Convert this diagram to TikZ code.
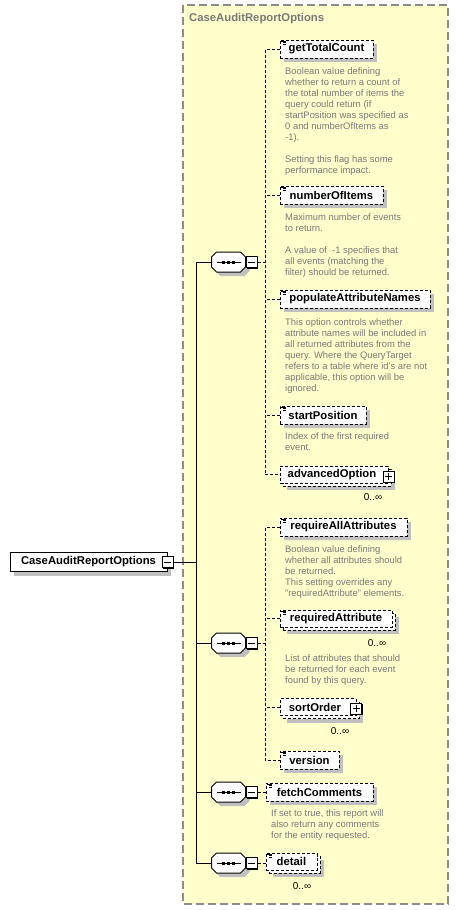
\documentclass[tikz,border=0pt]{standalone}
\usepackage{fontspec}
\setmainfont{Liberation Sans}
\usetikzlibrary{shadows}
\definecolor{boxyellow}{HTML}{FFFFCC}
\definecolor{txtgray}{HTML}{787878}
\definecolor{shgray}{HTML}{C0C0C0}
\definecolor{bordergray}{HTML}{8C8C8C}
\newcommand\seqcomp[2]{%
  \node[inner sep=0pt, minimum width=34pt, minimum height=20pt] (#1) at (#2) {};
  \begin{scope}[shift={(#1.center)}]
    \fill[shgray] (-8,-6) -- (16,-6) -- (21,-1) -- (21,9) -- (16,14) -- (-8,14) -- (-13,9) -- (-13,-1) -- cycle;
    \draw[fill=white, line width=1pt] (-12,-10) -- (12,-10) -- (17,-5) -- (17,5) -- (12,10) -- (-12,10) -- (-17,5) -- (-17,-5) -- cycle;
    \draw[line width=1pt] (-12,0) -- (12.5,0);
    \fill (-6.5,-1.5) rectangle (-3.5,1.5);
    \fill (-1.5,-1.5) rectangle (1.5,1.5);
    \fill (3.5,-1.5) rectangle (6.5,1.5);
  \end{scope}}
\newcommand\minusbox[2]{%
  \node[pmbox] (#1) at (#2) {};
  \draw[line width=1pt] ([shift={(-3.5,0)}]#1.center) -- ([shift={(3.5,0)}]#1.center);}
\newcommand\plusbox[2]{%
  \node[pmbox] (#1) at (#2) {};
  \draw[line width=1pt] ([shift={(-3.5,0)}]#1.center) -- ([shift={(3.5,0)}]#1.center)
    ([shift={(0,-3.5)}]#1.center) -- ([shift={(0,3.5)}]#1.center);}
\newcommand\elicon[1]{%
  \draw[line width=0.8pt] ([shift={(1.5,1.5)}]#1.north west) -- ++(5,0)
    ([shift={(3,3.3)}]#1.north west) -- ++(3.5,0)
    ([shift={(3,5.1)}]#1.north west) -- ++(3.5,0);}
\begin{document}
\begin{tikzpicture}[x=1pt,y=-1pt,
  namefont/.style={font=\fontsize{11.3}{13}\selectfont\bfseries},
  elem/.style={namefont, draw=black, line width=1pt, dash pattern=on 3pt off 2pt,
    fill=white, minimum height=18pt, inner sep=0pt,
    drop shadow={shadow xshift=4pt, shadow yshift=-4pt, fill=shgray, opacity=1}},
  multi/.style={namefont, draw=black, line width=1pt, dash pattern=on 3pt off 2pt,
    fill=white, minimum height=17pt, inner sep=0pt,
    drop shadow={shadow xshift=7pt, shadow yshift=-7pt, fill=shgray, opacity=1},
    general shadow={shadow xshift=3pt, shadow yshift=-3pt, fill=white, draw=black,
      line width=1pt, dash pattern=on 3pt off 2pt}},
  desc/.style={font=\fontsize{9.4}{11}\selectfont, text=txtgray, align=left,
    anchor=north west, inner sep=0pt},
  occ/.style={font=\fontsize{10}{11}\selectfont, inner sep=0pt},
  pmbox/.style={draw=black, fill=white, line width=1pt, minimum size=11pt, inner sep=0pt,
    drop shadow={shadow xshift=1.2pt, shadow yshift=-1.2pt, fill=black, opacity=1}},
  conn/.style={line width=1pt, dash pattern=on 3pt off 2pt},
  solid conn/.style={line width=1pt}]
\useasboundingbox (0,0) rectangle (459,910);
% yellow frame
\draw[bordergray, fill=boxyellow, line width=1.2pt, dash pattern=on 8pt off 4pt] (183,5) rectangle (448,904);
\node[namefont, text=txtgray, anchor=west, inner sep=0pt] (title) at (189,19) {CaseAuditReportOptions};

% root
\node[namefont, draw=black, line width=1pt, fill=white, minimum width=157pt, minimum height=19pt, inner sep=0pt,
  drop shadow={shadow xshift=4pt, shadow yshift=-4pt, fill=shgray, opacity=1}] (root) at (88.5,562) {CaseAuditReportOptions};
\minusbox{rm}{167.5,562}

% compositors
\seqcomp{s1}{228.5,262}
\minusbox{m1}{251.5,262}
\seqcomp{s2}{228.5,643}
\minusbox{m2}{251.5,643}
\seqcomp{s3}{228.5,792}
\minusbox{m3}{251.5,792}
\seqcomp{s4}{228.5,863}
\minusbox{m4}{251.5,863}

\coordinate (bus) at (196,862);
\draw[solid conn] (rm.east) -- (rm.east -| bus);
\draw[solid conn] (s1.west) -- (s1.west -| bus) -- (s4.west -| bus) -- (s4.west);
\draw[solid conn] (s2.west) -- (s2.west -| bus);
\draw[solid conn] (s3.west) -- (s3.west -| bus);

% sequence 1 elements
\node[elem, minimum width=93pt] (gtc) at (326.5,49) {getTotalCount};
\node[elem, minimum width=103pt] (noi) at (331.5,195) {numberOfItems};
\node[elem, minimum width=150pt] (pan) at (355,299) {populateAttributeNames};
\node[elem, minimum width=86pt] (sp) at (323,415) {startPosition};
\node[multi, minimum width=108pt] (ao) at (334,474.5) {advancedOption\hspace*{4pt}};
\plusbox{aop}{388.5,476.5}
\node[occ] (aoocc) at (373,497.5) {0..∞};
\foreach \n in {gtc,noi,pan,sp} {\elicon{\n}}

\coordinate (j1) at (265,262);
\draw[conn] (m1.east) -- (j1);
\draw[conn] (gtc.west) -- (gtc.west -| j1) -- (ao.west -| j1) -- (ao.west);
\draw[conn] (noi.west) -- (noi.west -| j1);
\draw[conn] (pan.west) -- (pan.west -| j1);
\draw[conn] (sp.west) -- (sp.west -| j1);

\node[desc] (gtcd) at (285,67) {Boolean value defining\\whether to return a count of\\the total number of items the\\query could return (if\\startPosition was specified as\\0 and numberOfItems as\\-1).\\[11pt]Setting this flag has some\\performance impact.};
\node[desc] (noid) at (285,213) {Maximum number of events\\to return.\\[11pt]A value of \ -1 specifies that\\all events (matching the\\filter) should be returned.};
\node[desc] (pand) at (285,318) {This option controls whether\\attribute names will be included in\\all returned attributes from the\\query. Where the QueryTarget\\refers to a table where id's are not\\applicable, this option will be\\ignored.};
\node[desc] (spd) at (285,432) {Index of the first required\\event.};

% sequence 2 elements
\node[elem, minimum width=127pt] (raa) at (343.5,527) {requireAllAttributes};
\node[multi, minimum width=112pt] (ra) at (336,618.5) {requiredAttribute};
\node[occ] (raocc) at (377,643) {0..∞};
\node[multi, minimum width=76pt] (so) at (318,707) {sortOrder\hspace*{6pt}};
\plusbox{sop}{356,708.5}
\node[occ] (soocc) at (340,731) {0..∞};
\node[elem, minimum width=59pt] (ver) at (309.5,760) {version};
\foreach \n in {raa,ra,ver} {\elicon{\n}}

\coordinate (j2) at (265,643);
\draw[conn] (m2.east) -- (j2);
\draw[conn] (raa.west) -- (raa.west -| j2) -- (ver.west -| j2) -- (ver.west);
\draw[conn] (ra.west) -- (ra.west -| j2);
\draw[conn] (so.west) -- (so.west -| j2);

\node[desc] (raad) at (285,545) {Boolean value defining\\whether all attributes should\\be returned.\\This setting overrides any\\"requiredAttribute" elements.};
\node[desc] (rad) at (285,654) {List of attributes that should\\be returned for each event\\found by this query.};

% sequence 3 and 4
\node[elem, minimum width=107pt] (fc) at (319.5,792) {fetchComments};
\node[multi, minimum width=51pt] (det) at (291.5,861.5) {detail};
\node[occ] (detocc) at (302,886) {0..∞};
\elicon{fc}
\elicon{det}
\draw[conn] (m3.east) -- (fc.west);
\draw[conn] (m4.east) -- (det.west |- m4.east);
\node[desc] (fcd) at (271,809) {If set to true, this report will\\also return any comments\\for the entity requested.};
\end{tikzpicture}
\end{document}
